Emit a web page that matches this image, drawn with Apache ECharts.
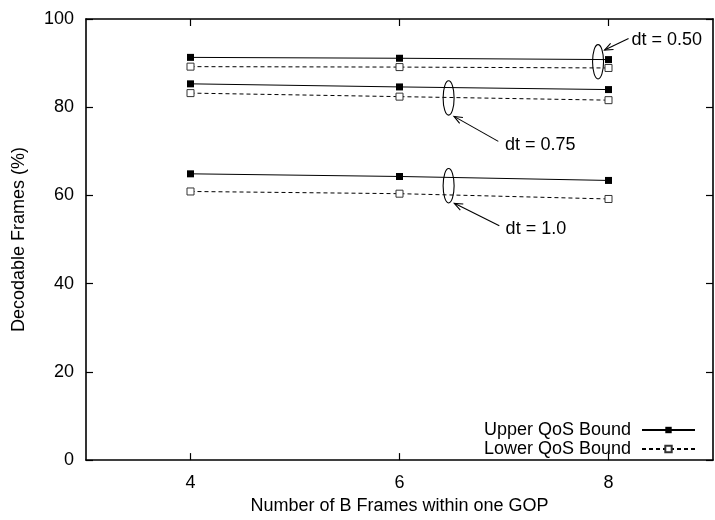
<!DOCTYPE html>
<html><head><meta charset="utf-8">
<script src="https://cdn.jsdelivr.net/npm/echarts@6/dist/echarts.min.js"></script>
<style>html,body{margin:0;padding:0;background:#fff}#c{width:715px;height:520px}</style>
</head><body><div id="c"></div><script>
// ---- data ----
const bFrames = [4, 6, 8];
const xTickValues = [4, 6, 8];
const upper050 = [91.3, 91.1, 90.8];
const lower050 = [89.2, 89.1, 88.9];
const upper075 = [85.3, 84.6, 84.0];
const lower075 = [83.2, 82.4, 81.6];
const upper100 = [64.9, 64.3, 63.4];
const lower100 = [60.9, 60.4, 59.2];
const annoLabels = ['dt = 0.50', 'dt = 0.75', 'dt = 1.0'];
const annoX = [7.9, 6.47, 6.47];
const annoY = [90.3, 82.1, 62.2];

// ---- styles ----
const FONT = "'Liberation Sans', Arial, Helvetica, sans-serif";
const annoOffsets = [
  {tip: [6.5, -11.7], tail: [30.5, -23.4], text: [33.5, -22]},
  {tip: [5.4, 18.4], tail: [49.7, 43.4], text: [56.4, 46.7]},
  {tip: [5.7, 17.6], tail: [50.7, 40], text: [57, 43.3]}
];
const pairs = a => bFrames.map((x, i) => [x, a[i]]);
const upperStyle = {
  type: 'line', name: 'Upper QoS Bound', symbol: 'rect', symbolSize: 7,
  lineStyle: {color: '#000', width: 1, type: 'solid'},
  itemStyle: {color: '#000', borderColor: '#000', borderWidth: 0},
  emphasis: {disabled: true}, animation: false, z: 3
};
const lowerStyle = {
  type: 'line', name: 'Lower QoS Bound', symbol: 'rect', symbolSize: 7, showAllSymbol: true,
  lineStyle: {color: '#000', width: 1, type: [4, 3]},
  itemStyle: {color: '#fff', borderColor: '#333', borderWidth: 1},
  emphasis: {disabled: true}, animation: false, z: 3
};
const tickCommon = {inside: true, length: 7, lineStyle: {color: '#000', width: 1.2}};
const lineCommon = {show: true, onZero: false, lineStyle: {color: '#000', width: 1.6}};

const chart = echarts.init(document.getElementById('c'), null, {renderer: 'canvas'});
chart.setOption({
  backgroundColor: '#fff',
  animation: false,
  textStyle: {fontFamily: FONT},
  grid: {left: 86, right: 2, top: 19, bottom: 57, containLabel: false},
  legend: {
    data: ['Upper QoS Bound', 'Lower QoS Bound'],
    orient: 'vertical', align: 'right', right: 14, top: 416,
    itemWidth: 53, itemHeight: 8, itemGap: 1,
    textStyle: {fontSize: 18, color: '#000', fontFamily: FONT, lineHeight: 18, padding: [0, 6, 0, 0]},
    selectedMode: false
  },
  xAxis: [{
    type: 'value', min: 3, max: 9, interval: 1, position: 'bottom',
    name: 'Number of B Frames within one GOP', nameLocation: 'middle', nameGap: 36,
    nameTextStyle: {fontSize: 18, color: '#000', fontFamily: FONT},
    axisLine: lineCommon,
    axisTick: Object.assign({customValues: xTickValues}, tickCommon),
    axisLabel: {customValues: xTickValues, fontSize: 18, color: '#000', margin: 14, fontFamily: FONT},
    splitLine: {show: false}
  }, {
    type: 'value', min: 3, max: 9, interval: 1, position: 'top',
    axisLine: lineCommon,
    axisTick: Object.assign({customValues: xTickValues}, tickCommon),
    axisLabel: {show: false}, splitLine: {show: false}
  }],
  yAxis: [{
    type: 'value', min: 0, max: 100, interval: 20, position: 'left',
    name: 'Decodable Frames (%)', nameLocation: 'middle', nameGap: 58,
    nameTextStyle: {fontSize: 18, color: '#000', fontFamily: FONT},
    axisLine: lineCommon, axisTick: tickCommon,
    axisLabel: {fontSize: 18, color: '#000', margin: 12, fontFamily: FONT},
    splitLine: {show: false}
  }, {
    type: 'value', min: 0, max: 100, interval: 20, position: 'right',
    axisLine: lineCommon, axisTick: tickCommon,
    axisLabel: {show: false}, splitLine: {show: false}
  }],
  series: [
    Object.assign({data: pairs(upper050)}, upperStyle),
    Object.assign({data: pairs(lower050)}, lowerStyle),
    Object.assign({data: pairs(upper075)}, upperStyle),
    Object.assign({data: pairs(lower075)}, lowerStyle),
    Object.assign({data: pairs(upper100)}, upperStyle),
    Object.assign({data: pairs(lower100)}, lowerStyle),
    {
      type: 'custom', name: 'annotations', silent: true, clip: false, z: 5,
      data: annoX.map((x, i) => [x, annoY[i]]),
      renderItem(params, api) {
        const i = params.dataIndex;
        const c = api.coord([api.value(0), api.value(1)]);
        const o = annoOffsets[i];
        const tip = [c[0] + o.tip[0], c[1] + o.tip[1]];
        const tail = [c[0] + o.tail[0], c[1] + o.tail[1]];
        const ang = Math.atan2(tip[1] - tail[1], tip[0] - tail[0]);
        const hl = 9, ha = 0.38;
        const h1 = [tip[0] - hl * Math.cos(ang - ha), tip[1] - hl * Math.sin(ang - ha)];
        const h2 = [tip[0] - hl * Math.cos(ang + ha), tip[1] - hl * Math.sin(ang + ha)];
        return {type: 'group', children: [
          {type: 'ellipse', shape: {cx: c[0], cy: c[1], rx: 5.5, ry: 17.2},
           style: {fill: null, stroke: '#000', lineWidth: 1.1}},
          {type: 'line', shape: {x1: tail[0], y1: tail[1], x2: tip[0], y2: tip[1]},
           style: {stroke: '#000', lineWidth: 1.1}},
          {type: 'polyline', shape: {points: [h1, tip, h2]},
           style: {stroke: '#000', lineWidth: 1.1, fill: null}},
          {type: 'text', x: c[0] + o.text[0], y: c[1] + o.text[1],
           style: {text: annoLabels[i], fill: '#000', font: '18px ' + FONT,
                   textAlign: 'left', textVerticalAlign: 'middle'}}
        ]};
      }
    }
  ]
});
</script></body></html>
